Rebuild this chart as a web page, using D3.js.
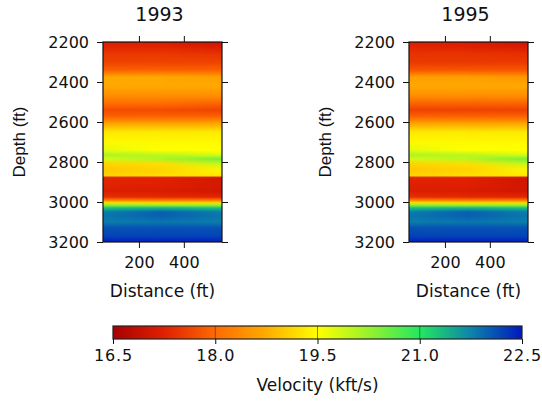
<!DOCTYPE html>
<html>
<head>
<meta charset="utf-8">
<script src="https://cdn.jsdelivr.net/npm/d3@7"></script>
<style>
    body { margin: 0; background: #fff; }
    svg text { font-family: "DejaVu Sans", sans-serif; fill: #111; }
    .axis path.domain { display: none; }
    .axis line { stroke: #111; }
</style>
</head>
<body>
<svg id="chart" width="542" height="402"></svg>
<script>
const depths = [2200, 2225, 2260, 2300, 2340, 2375, 2420, 2470, 2510, 2540, 2570, 2610, 2650, 2700,
    2740, 2765, 2785, 2810, 2840, 2868, 2878, 2910, 2945, 2975, 2990, 3003, 3015, 3030, 3050, 3070,
    3100, 3130, 3170, 3200];
// distance (ft) of each profile column: left edge, middle, right edge
const distances = [40, 300, 570];

// velocity (kft/s) profiles, 1993
const vel1993Left = [17.25, 17.3, 17.5, 17.6, 17.9, 18.7, 18.7, 18.4, 18.0, 17.7, 17.9, 18.7, 19.3, 19.45,
    19.7, 20.1, 19.8, 19.1, 19.0, 19.1, 17.3, 17.3, 17.2, 17.4, 18.2, 19.2, 20.3, 21.3, 21.8, 21.85,
    21.8, 22.1, 22.2, 22.45];
const vel1993Mid = [17.2, 17.3, 17.5, 17.6, 17.9, 18.7, 18.7, 18.4, 18.0, 17.7, 17.9, 18.7, 19.3, 19.45,
    19.5, 20.0, 20.1, 19.2, 19.1, 19.2, 17.25, 17.25, 17.15, 17.35, 18.1, 19.1, 20.2, 21.4, 22.0, 22.0,
    21.85, 22.1, 22.2, 22.45];
const vel1993Right = [17.0, 17.15, 17.45, 17.6, 17.9, 18.6, 18.7, 18.4, 17.9, 17.6, 17.9, 18.7, 19.3, 19.45,
    19.5, 19.8, 20.5, 19.9, 19.4, 19.3, 17.05, 17.1, 17.05, 17.3, 18.1, 19.1, 20.2, 21.3, 21.8, 21.85,
    21.8, 22.1, 22.2, 22.45];

// velocity (kft/s) profiles, 1995
const vel1995Left = [17.25, 17.3, 17.45, 17.5, 17.8, 18.6, 18.7, 18.4, 17.9, 17.6, 17.9, 18.7, 19.3, 19.45,
    19.7, 20.1, 19.8, 19.1, 19.0, 19.1, 17.3, 17.25, 17.2, 17.4, 18.2, 19.2, 20.3, 21.3, 21.8, 21.85,
    21.8, 22.1, 22.2, 22.45];
const vel1995Mid = [17.2, 17.25, 17.45, 17.5, 17.8, 18.6, 18.7, 18.4, 17.9, 17.6, 17.9, 18.7, 19.3, 19.45,
    19.5, 20.0, 20.0, 19.2, 19.1, 19.2, 17.25, 17.25, 17.15, 17.35, 18.1, 19.1, 20.2, 21.4, 22.0, 22.0,
    21.85, 22.1, 22.2, 22.45];
const vel1995Right = [17.0, 17.15, 17.4, 17.5, 17.8, 18.5, 18.7, 18.4, 17.9, 17.6, 17.9, 18.7, 19.3, 19.45,
    19.5, 19.8, 20.5, 19.9, 19.4, 19.3, 17.0, 17.05, 17.05, 17.3, 18.1, 19.1, 20.2, 21.3, 21.8, 21.85,
    21.8, 22.1, 22.2, 22.45];

const depthTicks = [2200, 2400, 2600, 2800, 3000, 3200];
const distanceTicks = [200, 400];
const velocityTicks = [16.5, 18.0, 19.5, 21.0, 22.5];

// colour map (red - orange - yellow - green - blue)
const colorValues = [16.5, 17.25, 18.0, 18.75, 19.5, 20.25, 21.0, 21.75, 22.5];
const colorHex = ["#a80000", "#e02000", "#ff6a00", "#ffac00", "#ffff00", "#98f22c", "#22e860", "#0c84aa", "#0018c0"];

const colorScale = d3.scaleLinear().domain(colorValues).range(colorHex).clamp(true);

class VelocityPanel {
    constructor(_config, _profiles) {
        this.config = {
            parentElement: _config.parentElement,
            id: _config.id,
            title: _config.title,
            left: _config.left,
            top: _config.top || 42,
            width: _config.width || 119,
            height: _config.height || 200,
        };
        this.profiles = _profiles;
        this.initVis();
    }

    initVis() {
        let vis = this;
        vis.xScale = d3.scaleLinear().domain(d3.extent(distances)).range([0, vis.config.width]);
        vis.yScale = d3.scaleLinear().domain([2200, 3200]).range([0, vis.config.height]);

        vis.svg = d3.select(vis.config.parentElement);
        vis.g = vis.svg.append("g")
            .attr("transform", `translate(${vis.config.left},${vis.config.top})`);
        vis.defs = vis.g.append("defs");
        vis.renderVis();
    }

    renderVis() {
        let vis = this;
        const w = vis.config.width, h = vis.config.height;

        // one vertical gradient per profile column
        vis.profiles.forEach((prof, i) => {
            const grad = vis.defs.append("linearGradient")
                .attr("id", `${vis.config.id}-col${i}`)
                .attr("x1", 0).attr("y1", 0).attr("x2", 0).attr("y2", 1);
            grad.selectAll("stop")
                .data(depths)
                .join("stop")
                .attr("offset", d => vis.yScale(d) / h)
                .attr("stop-color", (d, j) => colorScale(prof[j]));
        });

        // horizontal ramps that blend each column into the previous one
        for (let i = 1; i < vis.profiles.length; i++) {
            const ramp = vis.defs.append("linearGradient")
                .attr("id", `${vis.config.id}-ramp${i}`)
                .attr("gradientUnits", "userSpaceOnUse")
                .attr("x1", vis.xScale(distances[i - 1])).attr("x2", vis.xScale(distances[i]))
                .attr("y1", 0).attr("y2", 0);
            ramp.append("stop").attr("offset", 0).attr("stop-color", "#fff").attr("stop-opacity", 0);
            ramp.append("stop").attr("offset", 1).attr("stop-color", "#fff").attr("stop-opacity", 1);
            vis.defs.append("mask")
                .attr("id", `${vis.config.id}-mask${i}`)
                .append("rect")
                .attr("x", -5).attr("y", -5)
                .attr("width", w + 10).attr("height", h + 10)
                .attr("fill", `url(#${vis.config.id}-ramp${i})`);
        }

        vis.g.selectAll(".layer")
            .data(vis.profiles)
            .join("rect")
            .attr("class", "layer")
            .attr("width", w)
            .attr("height", h)
            .attr("fill", (d, i) => `url(#${vis.config.id}-col${i})`)
            .attr("mask", (d, i) => i > 0 ? `url(#${vis.config.id}-mask${i})` : null);

        // axes
        vis.g.append("g").attr("class", "axis")
            .call(d3.axisLeft(vis.yScale).tickValues(depthTicks).tickSize(6).tickPadding(8).tickFormat(d3.format("d")))
            .selectAll("text").attr("font-size", 16);
        vis.g.append("g").attr("class", "axis")
            .attr("transform", `translate(${w},0)`)
            .call(d3.axisRight(vis.yScale).tickValues(depthTicks).tickSize(6).tickFormat(""));
        vis.g.append("g").attr("class", "axis")
            .call(d3.axisTop(vis.xScale).tickValues(distanceTicks).tickSize(6).tickFormat(""));
        vis.g.append("g").attr("class", "axis")
            .attr("transform", `translate(0,${h})`)
            .call(d3.axisBottom(vis.xScale).tickValues(distanceTicks).tickSize(6).tickPadding(9))
            .selectAll("text").attr("font-size", 16);

        vis.g.append("rect")
            .attr("width", w).attr("height", h)
            .attr("fill", "none").attr("stroke", "#111").attr("stroke-width", 1.2);

        vis.g.append("text")
            .attr("x", w / 2 - 3).attr("y", -21)
            .attr("text-anchor", "middle")
            .attr("font-size", 19)
            .text(vis.config.title);

        vis.g.append("text")
            .attr("x", w / 2).attr("y", h + 55)
            .attr("text-anchor", "middle")
            .attr("font-size", 17)
            .text("Distance (ft)");

        vis.g.append("text")
            .attr("transform", `translate(-78,${h / 2}) rotate(-90)`)
            .attr("text-anchor", "middle")
            .attr("font-size", 17)
            .style("font-family", "'Liberation Sans', Arial, sans-serif")
            .text("Depth (ft)");
    }
}

new VelocityPanel({parentElement: "#chart", id: "p1993", title: "1993", left: 103},
    [vel1993Left, vel1993Mid, vel1993Right]);
new VelocityPanel({parentElement: "#chart", id: "p1995", title: "1995", left: 409},
    [vel1995Left, vel1995Mid, vel1995Right]);

// colour bar
function drawColorBar() {
    const svg = d3.select("#chart");
    const bar = {left: 113, top: 326, width: 409, height: 13};
    const xScale = d3.scaleLinear().domain([16.5, 22.5]).range([0, bar.width]);
    const g = svg.append("g").attr("transform", `translate(${bar.left},${bar.top})`);

    const grad = svg.append("defs").append("linearGradient").attr("id", "cbar");
    grad.selectAll("stop")
        .data(colorValues)
        .join("stop")
        .attr("offset", d => xScale(d) / bar.width)
        .attr("stop-color", (d, i) => colorHex[i]);

    g.append("rect")
        .attr("width", bar.width).attr("height", bar.height)
        .attr("fill", "url(#cbar)");

    g.selectAll(".grid")
        .data(velocityTicks.slice(1, -1))
        .join("line")
        .attr("class", "grid")
        .attr("x1", d => xScale(d)).attr("x2", d => xScale(d))
        .attr("y1", 0).attr("y2", bar.height)
        .attr("stroke", "#333").attr("stroke-opacity", 0.6);

    g.append("rect")
        .attr("width", bar.width).attr("height", bar.height)
        .attr("fill", "none").attr("stroke", "#222").attr("stroke-width", 1.2);

    g.append("g").attr("class", "axis")
        .attr("transform", `translate(0,${bar.height})`)
        .call(d3.axisBottom(xScale).tickValues(velocityTicks).tickSize(5).tickPadding(6).tickFormat(d3.format(".1f")))
        .selectAll("text").attr("font-size", 16).attr("letter-spacing", 0.8);

    g.append("text")
        .attr("x", bar.width / 2).attr("y", 65)
        .attr("text-anchor", "middle")
        .attr("font-size", 17)
        .text("Velocity (kft/s)");
}
drawColorBar();
</script>
</body>
</html>
